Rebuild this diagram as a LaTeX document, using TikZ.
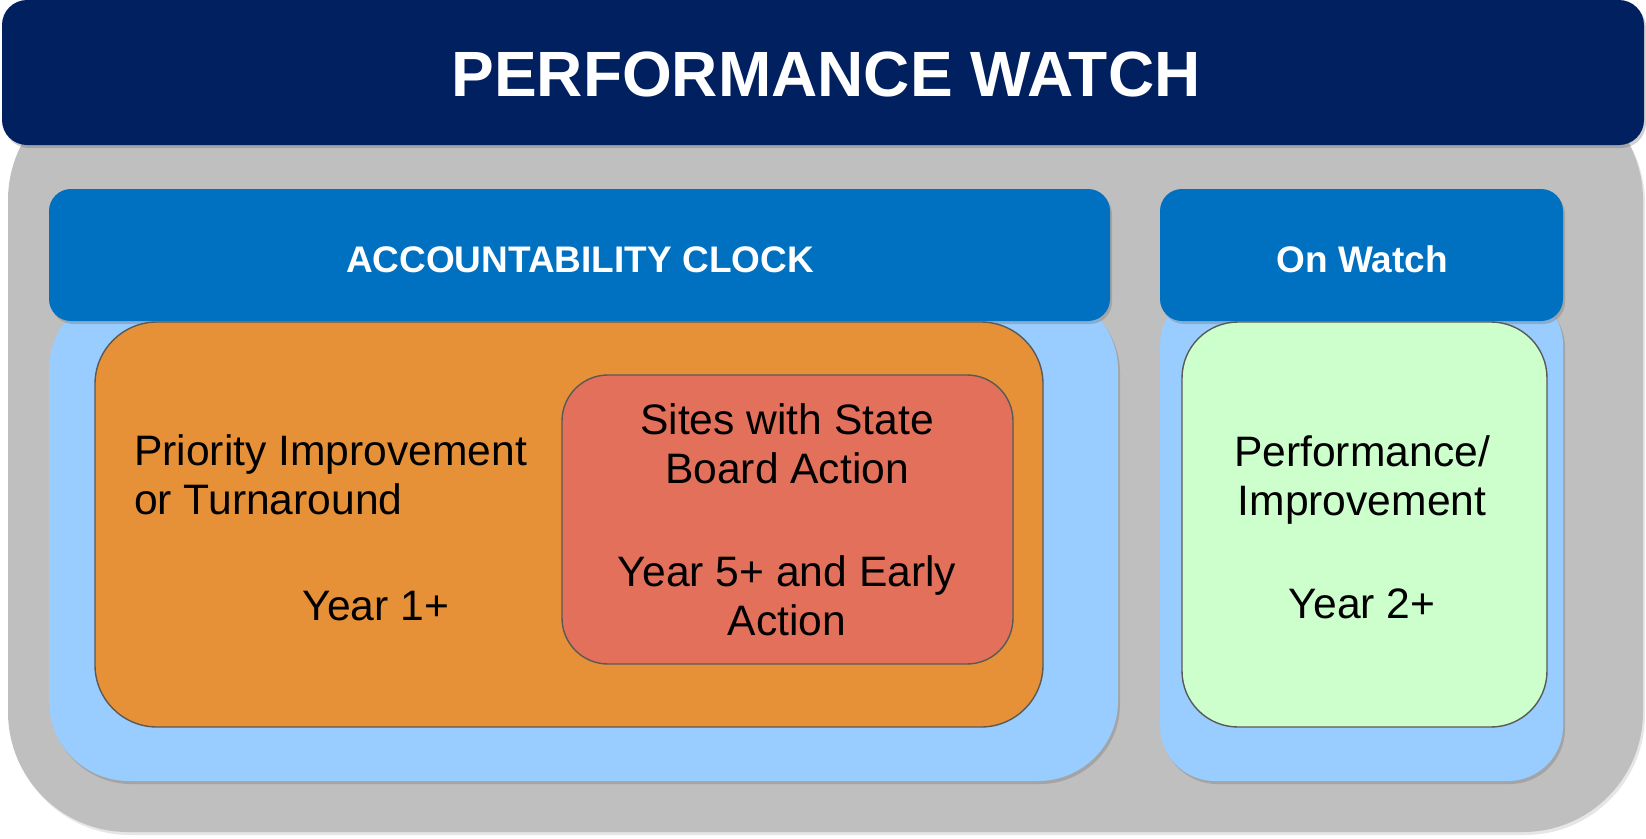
\documentclass[tikz,border=0pt]{standalone}
\usepackage{fontspec}
\setmainfont{Liberation Sans}
\usetikzlibrary{shadows}
\definecolor{navy}{HTML}{002060}
\definecolor{panelgray}{HTML}{BFBFBF}
\definecolor{hdrblue}{HTML}{0070C0}
\definecolor{ltblue}{HTML}{99CCFF}
\definecolor{orangebox}{HTML}{E69138}
\definecolor{redbox}{HTML}{E3705B}
\definecolor{greenbox}{HTML}{CCFFCC}
\definecolor{edgegray}{HTML}{595959}
\begin{document}
\begin{tikzpicture}[x=1pt,y=-1pt,
  shad/.style={drop shadow={shadow xshift=2pt,shadow yshift=-3pt,opacity=0.3,fill=black!60}},
  hdr/.style={fill=hdrblue,rounded corners=22pt,shad},
  panel/.style={fill=ltblue,rounded corners=80pt,shad},
  inner/.style={draw=edgegray,line width=1.4pt},
  bodytext/.style={text=black,inner sep=0pt,font=\fontsize{42.6}{49}\selectfont},
  hdrtext/.style={text=white,inner sep=0pt,font=\bfseries\fontsize{37}{44}\selectfont}]
\useasboundingbox (0,0) rectangle (1646,838);
% gray back panel
\fill[panelgray,rounded corners=120pt,drop shadow={shadow xshift=2pt,shadow yshift=-3pt,opacity=0.2,fill=black!50}] (8,80) rectangle (1643,832);
% navy title bar
\fill[navy,rounded corners=25pt,shad] (2,0) rectangle (1644,145);
\node[text=white,inner sep=0pt,anchor=base,font=\bfseries\fontsize{64}{70}\selectfont] (title) at (826,96) {PERFORMANCE WATCH};
% light blue panels
\fill[panel] (49,290) rectangle (1118,781);
\fill[panel,rounded corners=55pt] (1160,290) rectangle (1563,781);
% blue headers
\fill[hdr] (49,189) rectangle (1110,321);
\fill[hdr] (1160,189) rectangle (1563,321);
\node[hdrtext,anchor=base] (acc) at (580,272) {ACCOUNTABILITY CLOCK};
\node[hdrtext,anchor=base] (onw) at (1362,272) {On Watch};
% orange box
\filldraw[inner,fill=orangebox,rounded corners=62pt] (95,322) rectangle (1043,727);
% red box
\filldraw[inner,fill=redbox,rounded corners=46pt] (562,375) rectangle (1013,664);
% green box
\filldraw[inner,fill=greenbox,rounded corners=56pt] (1182,322) rectangle (1547,727);
% texts (base anchor = baseline of the last line)
\node[bodytext,anchor=base west,align=left] (prio) at (134,514) {Priority Improvement\\or Turnaround};
\node[bodytext,anchor=base] (year1) at (376,620) {Year 1+};
\node[bodytext,anchor=base,align=center] (sites) at (787,483) {Sites with State\\Board Action};
\node[bodytext,anchor=base,align=center] (year5) at (787,635) {Year 5+ and Early\\Action};
\node[bodytext,anchor=base,align=center] (perf) at (1362,515) {Performance/\\Improvement};
\node[bodytext,anchor=base] (year2) at (1362,618) {Year 2+};
\end{tikzpicture}
\end{document}
